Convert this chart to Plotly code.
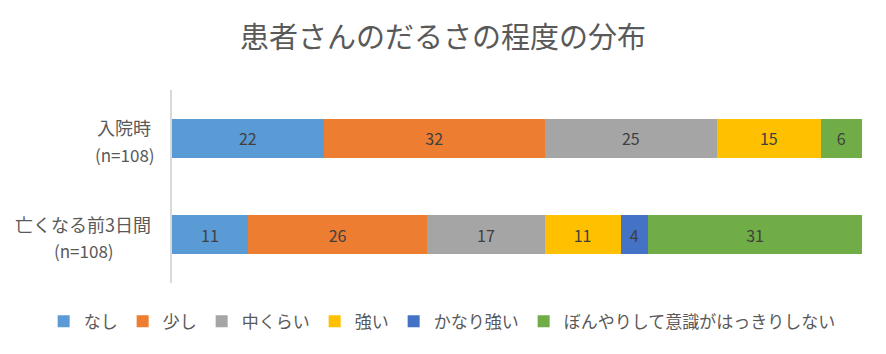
import plotly.graph_objects as go

categories = ["入院時", "亡くなる前3日間"]
cat_line1 = ["入院時", "亡くなる前3日間"]
cat_line2 = ["(n=108)", "(n=108)"]
series_names = ["なし", "少し", "中くらい", "強い", "かなり強い", "ぼんやりして意識がはっきりしない"]
values = {
    "なし": [22, 11],
    "少し": [32, 26],
    "中くらい": [25, 17],
    "強い": [15, 11],
    "かなり強い": [0, 4],
    "ぼんやりして意識がはっきりしない": [6, 31],
}
colors = ["#5B9BD5", "#ED7D31", "#A5A5A5", "#FFC000", "#4472C4", "#70AD47"]
title = "患者さんのだるさの程度の分布"

FONT = "Noto Sans CJK JP"
# horizontal centre offsets (px from axis) for the second label line
line2_shift = [-47, -88]

fig = go.Figure()
for name, col in zip(series_names, colors):
    v = values[name]
    fig.add_trace(go.Bar(
        y=categories, x=v, name=name, orientation="h",
        marker=dict(color=col, line=dict(width=0)),
        text=[str(a) if a else "" for a in v],
        textposition="inside", insidetextanchor="middle", textangle=0,
        constraintext="none",
        insidetextfont=dict(family=FONT, size=16, color="#404040"),
        hoverinfo="skip",
    ))

for cat, l1, l2, sh in zip(categories, cat_line1, cat_line2, line2_shift):
    fig.add_annotation(x=0, y=cat, xref="paper", yref="y", text=l1,
                       showarrow=False, xanchor="right", yanchor="middle",
                       xshift=-19, yshift=11, font=dict(family=FONT, size=18, color="#595959"))
    fig.add_annotation(x=0, y=cat, xref="paper", yref="y", text=l2,
                       showarrow=False, xanchor="center", yanchor="middle",
                       xshift=sh, yshift=-16, font=dict(family=FONT, size=17, color="#595959"))

fig.update_layout(
    width=886, height=354,
    barmode="stack", bargap=0.6,
    paper_bgcolor="white", plot_bgcolor="white",
    margin=dict(l=172, r=24, t=90, b=71, autoexpand=False),
    title=dict(text=title, x=0.5, xref="container", xanchor="center",
               y=1 - 38 / 354, yref="container", yanchor="middle",
               font=dict(family=FONT, size=29, color="#595959")),
    xaxis=dict(range=[0, 100], visible=False, fixedrange=True),
    yaxis=dict(categoryorder="array", categoryarray=categories, autorange="reversed",
               showticklabels=False, showline=True, linecolor="#D9D9D9", linewidth=2,
               showgrid=False, zeroline=False, ticks=""),
    legend=dict(orientation="h", xref="paper", x=-0.186, xanchor="left",
                yref="paper", y=-0.2, yanchor="middle",
                font=dict(family=FONT, size=17, color="#595959"),
                traceorder="normal"),
    showlegend=True,
)

fig.write_html("out.html")
